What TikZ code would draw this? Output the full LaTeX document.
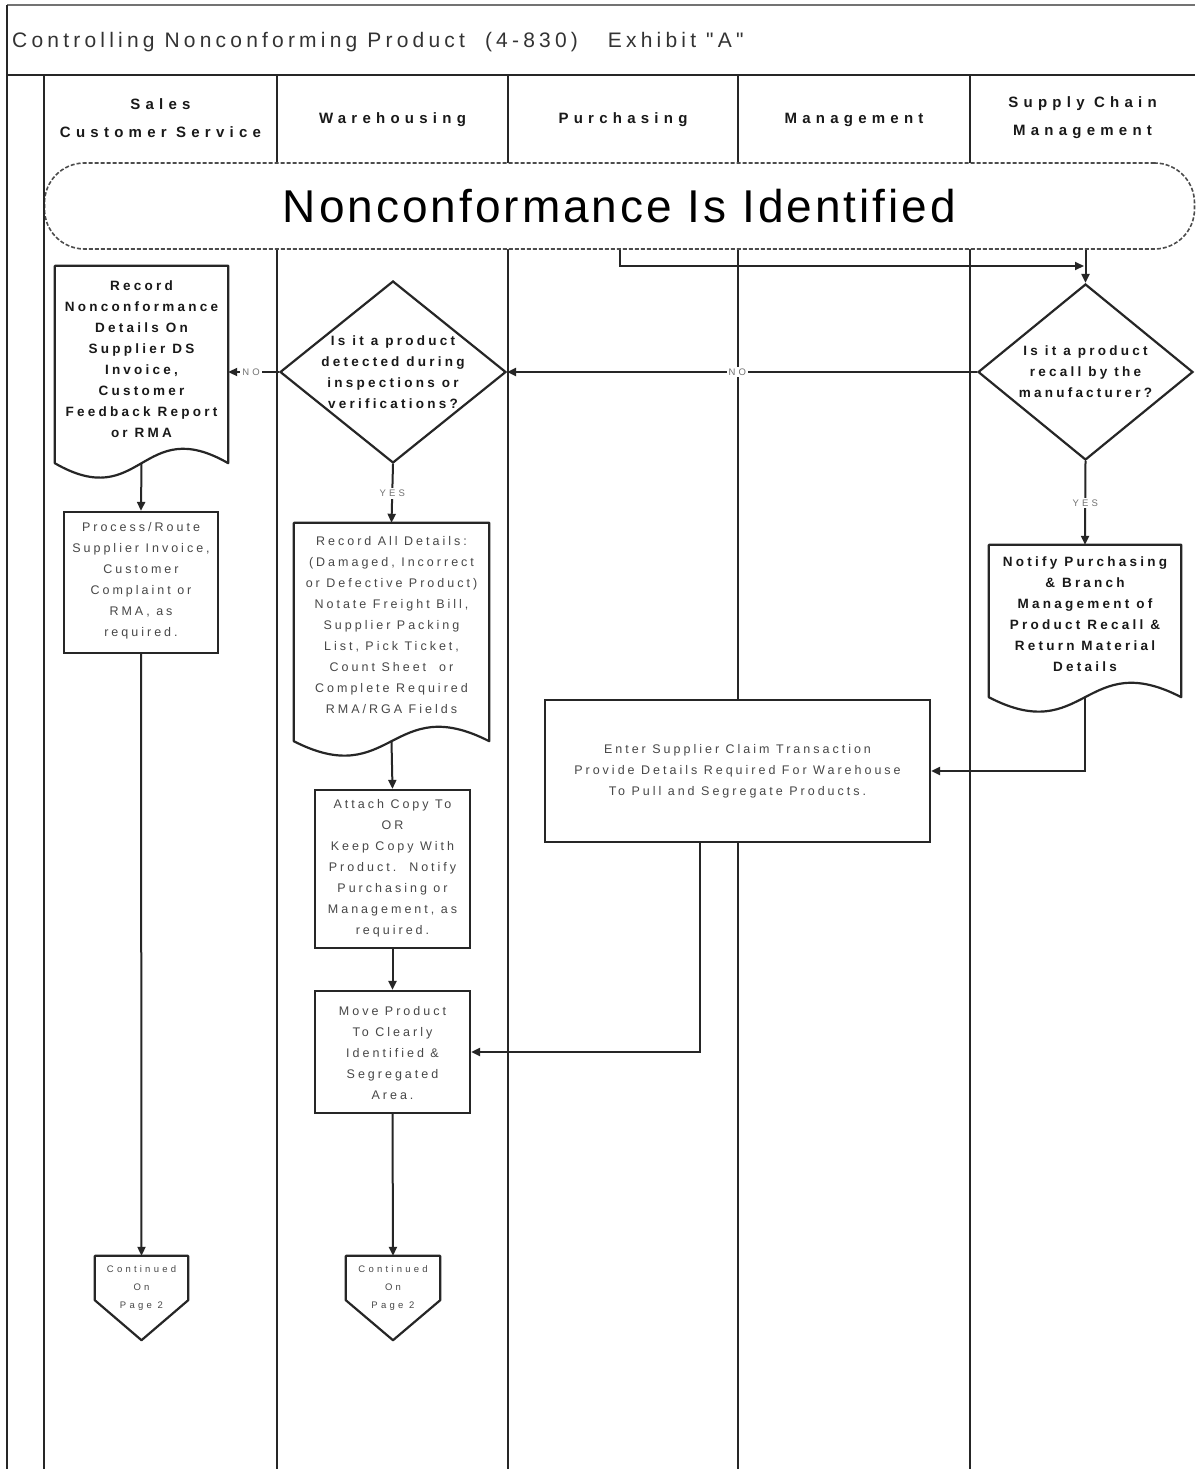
\documentclass[tikz,border=0pt]{standalone}
\usepackage{fontspec}
\setmainfont{Liberation Sans}
\newfontfamily\titlef[LetterSpace=20]{Liberation Sans}
\newfontfamily\hdrf[LetterSpace=35]{Liberation Sans}
\newfontfamily\bodyf[LetterSpace=24]{Liberation Sans}
\newfontfamily\bigf[LetterSpace=6.5]{Liberation Sans}
\newfontfamily\smallf[LetterSpace=34]{Liberation Sans}
\usetikzlibrary{arrows.meta,shapes.geometric}
\tikzset{
  lane/.style={line width=2.8pt, draw=black!85},
  box/.style={draw=black!85, line width=2.2pt, fill=white, inner sep=0pt},
  docn/.style={inner sep=0pt},
  docshape/.style={draw=black!85, line width=2.2pt, fill=white, line join=round},
  dia/.style={shape=diamond, draw=black!85, line width=2.2pt, fill=white, inner sep=0pt},
  txtb/.style={align=center, font=\bodyf\bfseries\fontsize{13.5}{21}\selectfont, text=black!90, inner sep=0pt},
  txtr/.style={align=center, font=\bodyf\fontsize{12.5}{21}\selectfont, text=black!72, inner sep=0pt},
  txts/.style={align=center, font=\smallf\fontsize{9.5}{18}\selectfont, text=black!72, inner sep=0pt},
  hdr/.style={align=center, font=\hdrf\bfseries\fontsize{15}{28}\selectfont, text=black!90, inner sep=0pt},
  arr/.style={line width=2pt, draw=black!85, -{Triangle[length=9pt,width=8pt]}},
  lbl/.style={fill=white, font=\smallf\fontsize{9.5}{10}\selectfont, text=black!55, inner sep=2pt},
}
\begin{document}
\begin{tikzpicture}[x=1pt,y=-1pt]
\useasboundingbox[fill=white] (0,0) rectangle (1195,1469);
% frame and lanes
\draw[line width=2.4pt, draw=black!55] (7,5) -- (1195,5);
\draw[lane] (7,5) -- (7,1469);
\draw[lane] (7,75) -- (1195,75);
\foreach \x in {277,508,738,970} {\draw[lane] (\x,75) -- (\x,1469);}
% title
\node[anchor=west, font=\titlef\fontsize{21}{24}\selectfont, text=black!80, inner sep=0pt] (title) at (12,42)
  {Controlling Nonconforming Product\ \ (4-830)\hspace{30pt}Exhibit "A"};
% headers
\node[hdr] (hS) at (160.5,118) {Sales\\Customer Service};
\node[hdr] (hW) at (392.5,120) {Warehousing};
\node[hdr] (hP) at (623,120) {Purchasing};
\node[hdr] (hM) at (854,120) {Management};
\node[hdr] (hC) at (1082.5,118) {Supply Chain\\Management};
% start
\node[draw=black!70, dashed, dash pattern=on 4pt off 2pt, line width=1.6pt, rounded corners=40pt, fill=white,
      minimum width=1150, minimum height=86, inner sep=0pt, font=\bigf\fontsize{46}{50}\selectfont] (start) at (619.5,206)
  {Nonconformance Is Identified};
\draw[lane] (44,75) -- (44,1469);
% doc1
\node[docn, minimum width=173, minimum height=197] (doc1) at (141.5,364.5) {};
\draw[docshape] (doc1.north west) -- (doc1.south west) .. controls ([yshift=-50pt]doc1.south) and ([yshift=50pt]doc1.south) .. (doc1.south east) -- (doc1.north east) -- cycle;
\node[txtb] (doc1t) at (141.5,359) {Record\\Nonconformance\\Details On\\Supplier DS\\Invoice,\\Customer\\Feedback Report\\or RMA};
% diamond 1
\node[dia, minimum width=226, minimum height=182] (d1) at (393,372) {};
\node[txtb] (d1t) at (393,372) {Is it a product\\detected during\\inspections or\\verifications?};
% diamond 2
\node[dia, minimum width=215, minimum height=176] (d2) at (1085.5,372) {};
\node[txtb] (d2t) at (1085.5,372) {Is it a product\\recall by the\\manufacturer?};
% process
\node[box, minimum width=154, minimum height=141] (proc) at (141,582.5) {};
\node[txtr] (proct) at (141,581) {Process/Route\\Supplier Invoice,\\Customer\\Complaint or\\RMA, as\\required.};
% doc2
\node[docn, minimum width=195, minimum height=218] (doc2) at (391.5,632) {};
\draw[docshape] (doc2.north west) -- (doc2.south west) .. controls ([yshift=-50pt]doc2.south) and ([yshift=50pt]doc2.south) .. (doc2.south east) -- (doc2.north east) -- cycle;
\node[txtr] (doc2t) at (391.5,625) {Record All Details:\\(Damaged, Incorrect\\or Defective Product)\\Notate Freight Bill,\\Supplier Packing\\List, Pick Ticket,\\Count Sheet\ \ or\\Complete Required\\RMA/RGA Fields};
% doc3
\node[docn, minimum width=192, minimum height=152] (doc3) at (1085,621) {};
\draw[docshape] (doc3.north west) -- (doc3.south west) .. controls ([yshift=-50pt]doc3.south) and ([yshift=50pt]doc3.south) .. (doc3.south east) -- (doc3.north east) -- cycle;
\node[txtb] (doc3t) at (1085,614.5) {Notify Purchasing\\\& Branch\\Management of\\Product Recall \&\\Return Material\\Details};
% enter
\node[box, minimum width=385, minimum height=142] (enter) at (737.5,771) {};
\node[txtr] (entert) at (737.5,771.5) {Enter Supplier Claim Transaction\\Provide Details Required For Warehouse\\To Pull and Segregate Products.};
% attach
\node[box, minimum width=155, minimum height=158] (attach) at (392.5,869) {};
\node[txtr] (attacht) at (392.5,868.5) {Attach Copy To\\OR\\Keep Copy With\\Product.\ \ Notify\\Purchasing or\\Management, as\\required.};
% move
\node[box, minimum width=155, minimum height=122] (move) at (392.5,1052) {};
\node[txtr] (movet) at (392.5,1053) {Move Product\\To Clearly\\Identified \&\\Segregated\\Area.};
% off-page connectors
\node[docn, minimum width=93, minimum height=44] (off1) at (141.5,1278) {};
\draw[docshape] (off1.north west) -- (off1.north east) -- (off1.south east) -- ([yshift=-40pt]off1.south) -- (off1.south west) -- cycle;
\node[txts] (off1t) at (141.5,1288) {Continued\\On\\Page 2};
\node[docn, minimum width=94, minimum height=44] (off2) at (393,1278) {};
\draw[docshape] (off2.north west) -- (off2.north east) -- (off2.south east) -- ([yshift=-40pt]off2.south) -- (off2.south west) -- cycle;
\node[txts] (off2t) at (393,1288) {Continued\\On\\Page 2};
% connectors
\coordinate (j) at (1084,266);
\draw[arr] (start.south) |- (j);
\draw[arr] (start.south -| d2.north) -- (d2.north);
\draw[arr] (d2.west) -- node[lbl, pos=0.51] {NO} (d1.east);
\draw[arr] (d1.west) -- node[lbl, pos=0.55] {NO} (doc1.east |- d1.west);
\draw[arr] (d1.south) -- node[lbl] {YES} (doc2.north);
\draw[arr] (d2.south) -- node[lbl] {YES} (doc3.north);
\draw[arr] (doc1.south) -- (proc.north);
\draw[arr] (proc.south) -- (off1.north);
\draw[arr] (doc2.south) -- (attach.north);
\draw[arr] (attach.south) -- (move.north);
\draw[arr] (move.south) -- (off2.north);
\draw[arr] (doc3.south) |- (enter.east);
\draw[arr] ([xshift=-37.5pt]enter.south) |- (move.east);
\end{tikzpicture}
\end{document}
